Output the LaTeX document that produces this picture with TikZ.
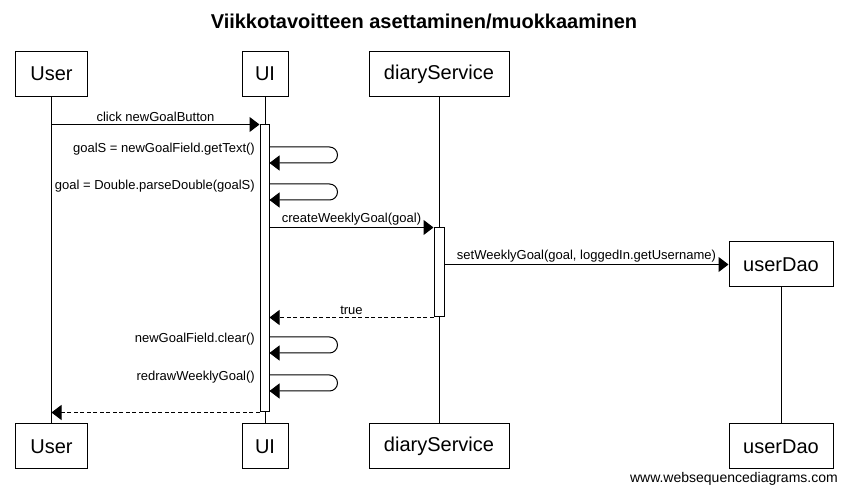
\documentclass[tikz,border=0pt]{standalone}
\usepackage{fontspec}
\setmainfont{Liberation Sans}
\usetikzlibrary{arrows.meta}
\begin{document}
\begin{tikzpicture}[x=1pt,y=-1pt,
  actor/.style={draw, line width=1pt, fill=white, minimum height=45, inner sep=0pt, font=\fontsize{20}{24}\selectfont},
  actbar/.style={draw, line width=1pt, fill=white, inner sep=0pt},
  life/.style={line width=1pt},
  msg/.style={line width=1pt, -{Triangle[length=10pt,width=15pt]}},
  ret/.style={msg, dash pattern=on 4pt off 2.5pt},
  lbl/.style={font=\fontsize{13}{15}\selectfont, inner sep=1pt},
  selflbl/.style={lbl, anchor=east}
]
\useasboundingbox (0,0) rectangle (847,494);
\node[font=\bfseries\fontsize{20}{24}\selectfont] (title) at (424,21) {Viikkotavoitteen asettaminen/muokkaaminen};

% participants
\node[actor, minimum width=72] (userT) at (51.5,74) {User};
\node[actor, minimum width=46] (uiT) at (265,74) {UI};
\node[actor, minimum width=140] (dsT) at (439,74) {diaryService};
\node[actor, minimum width=104] (udT) at (781,264.5) {userDao};
\node[actor, minimum width=72] (userB) at (51.5,446.5) {User};
\node[actor, minimum width=46] (uiB) at (265,446.5) {UI};
\node[actor, minimum width=140] (dsB) at (439,446.5) {diaryService};
\node[actor, minimum width=104] (udB) at (781,446.5) {userDao};

% lifelines
\draw[life] (userT.south) -- (userB.north);
\draw[life] (uiT.south) -- (uiB.north);
\draw[life] (dsT.south) -- (dsB.north);
\draw[life] (udT.south) -- (udB.north);

% activations
\node[actbar, minimum width=9, minimum height=287] (uiAct) at (264.5,268.5) {};
\node[actbar, minimum width=10, minimum height=89] (dsAct) at (439,272.5) {};

% messages
\draw[msg] (userT.south |- uiAct.north west) -- node[lbl, above, yshift=1pt] {click newGoalButton} (uiAct.north west);

\coordinate (s1) at (uiAct.east |- 0,147);
\draw[msg, rounded corners=8pt] (s1) -- ++(68,0) -- ++(0,16) -- ++(-68,0);
\node[selflbl] (l1) at (256,149) {goalS = newGoalField.getText()};

\coordinate (s2) at (uiAct.east |- 0,184);
\draw[msg, rounded corners=8pt] (s2) -- ++(68,0) -- ++(0,16) -- ++(-68,0);
\node[selflbl] (l2) at (256,186) {goal = Double.parseDouble(goalS)};

\draw[msg] (uiAct.east |- dsAct.north west) -- node[lbl, above, yshift=1pt] {createWeeklyGoal(goal)} (dsAct.north west);
\draw[msg] (dsAct.east |- udT.west) -- node[lbl, above, yshift=1pt] {setWeeklyGoal(goal, loggedIn.getUsername)} (udT.west);
\draw[ret] (dsAct.south west) -- node[lbl, above, yshift=1pt] {true} (uiAct.east |- dsAct.south west);

\coordinate (s3) at (uiAct.east |- 0,337);
\draw[msg, rounded corners=8pt] (s3) -- ++(68,0) -- ++(0,16) -- ++(-68,0);
\node[selflbl] (l3) at (256,339) {newGoalField.clear()};

\coordinate (s4) at (uiAct.east |- 0,375);
\draw[msg, rounded corners=8pt] (s4) -- ++(68,0) -- ++(0,16) -- ++(-68,0);
\node[selflbl] (l4) at (256,377) {redrawWeeklyGoal()};

\draw[ret] (uiAct.south west) -- (userT.south |- uiAct.south west);

\node[anchor=east, font=\fontsize{14}{16}\selectfont, inner sep=0pt] (footer) at (838,479) {www.websequencediagrams.com};
\end{tikzpicture}
\end{document}
